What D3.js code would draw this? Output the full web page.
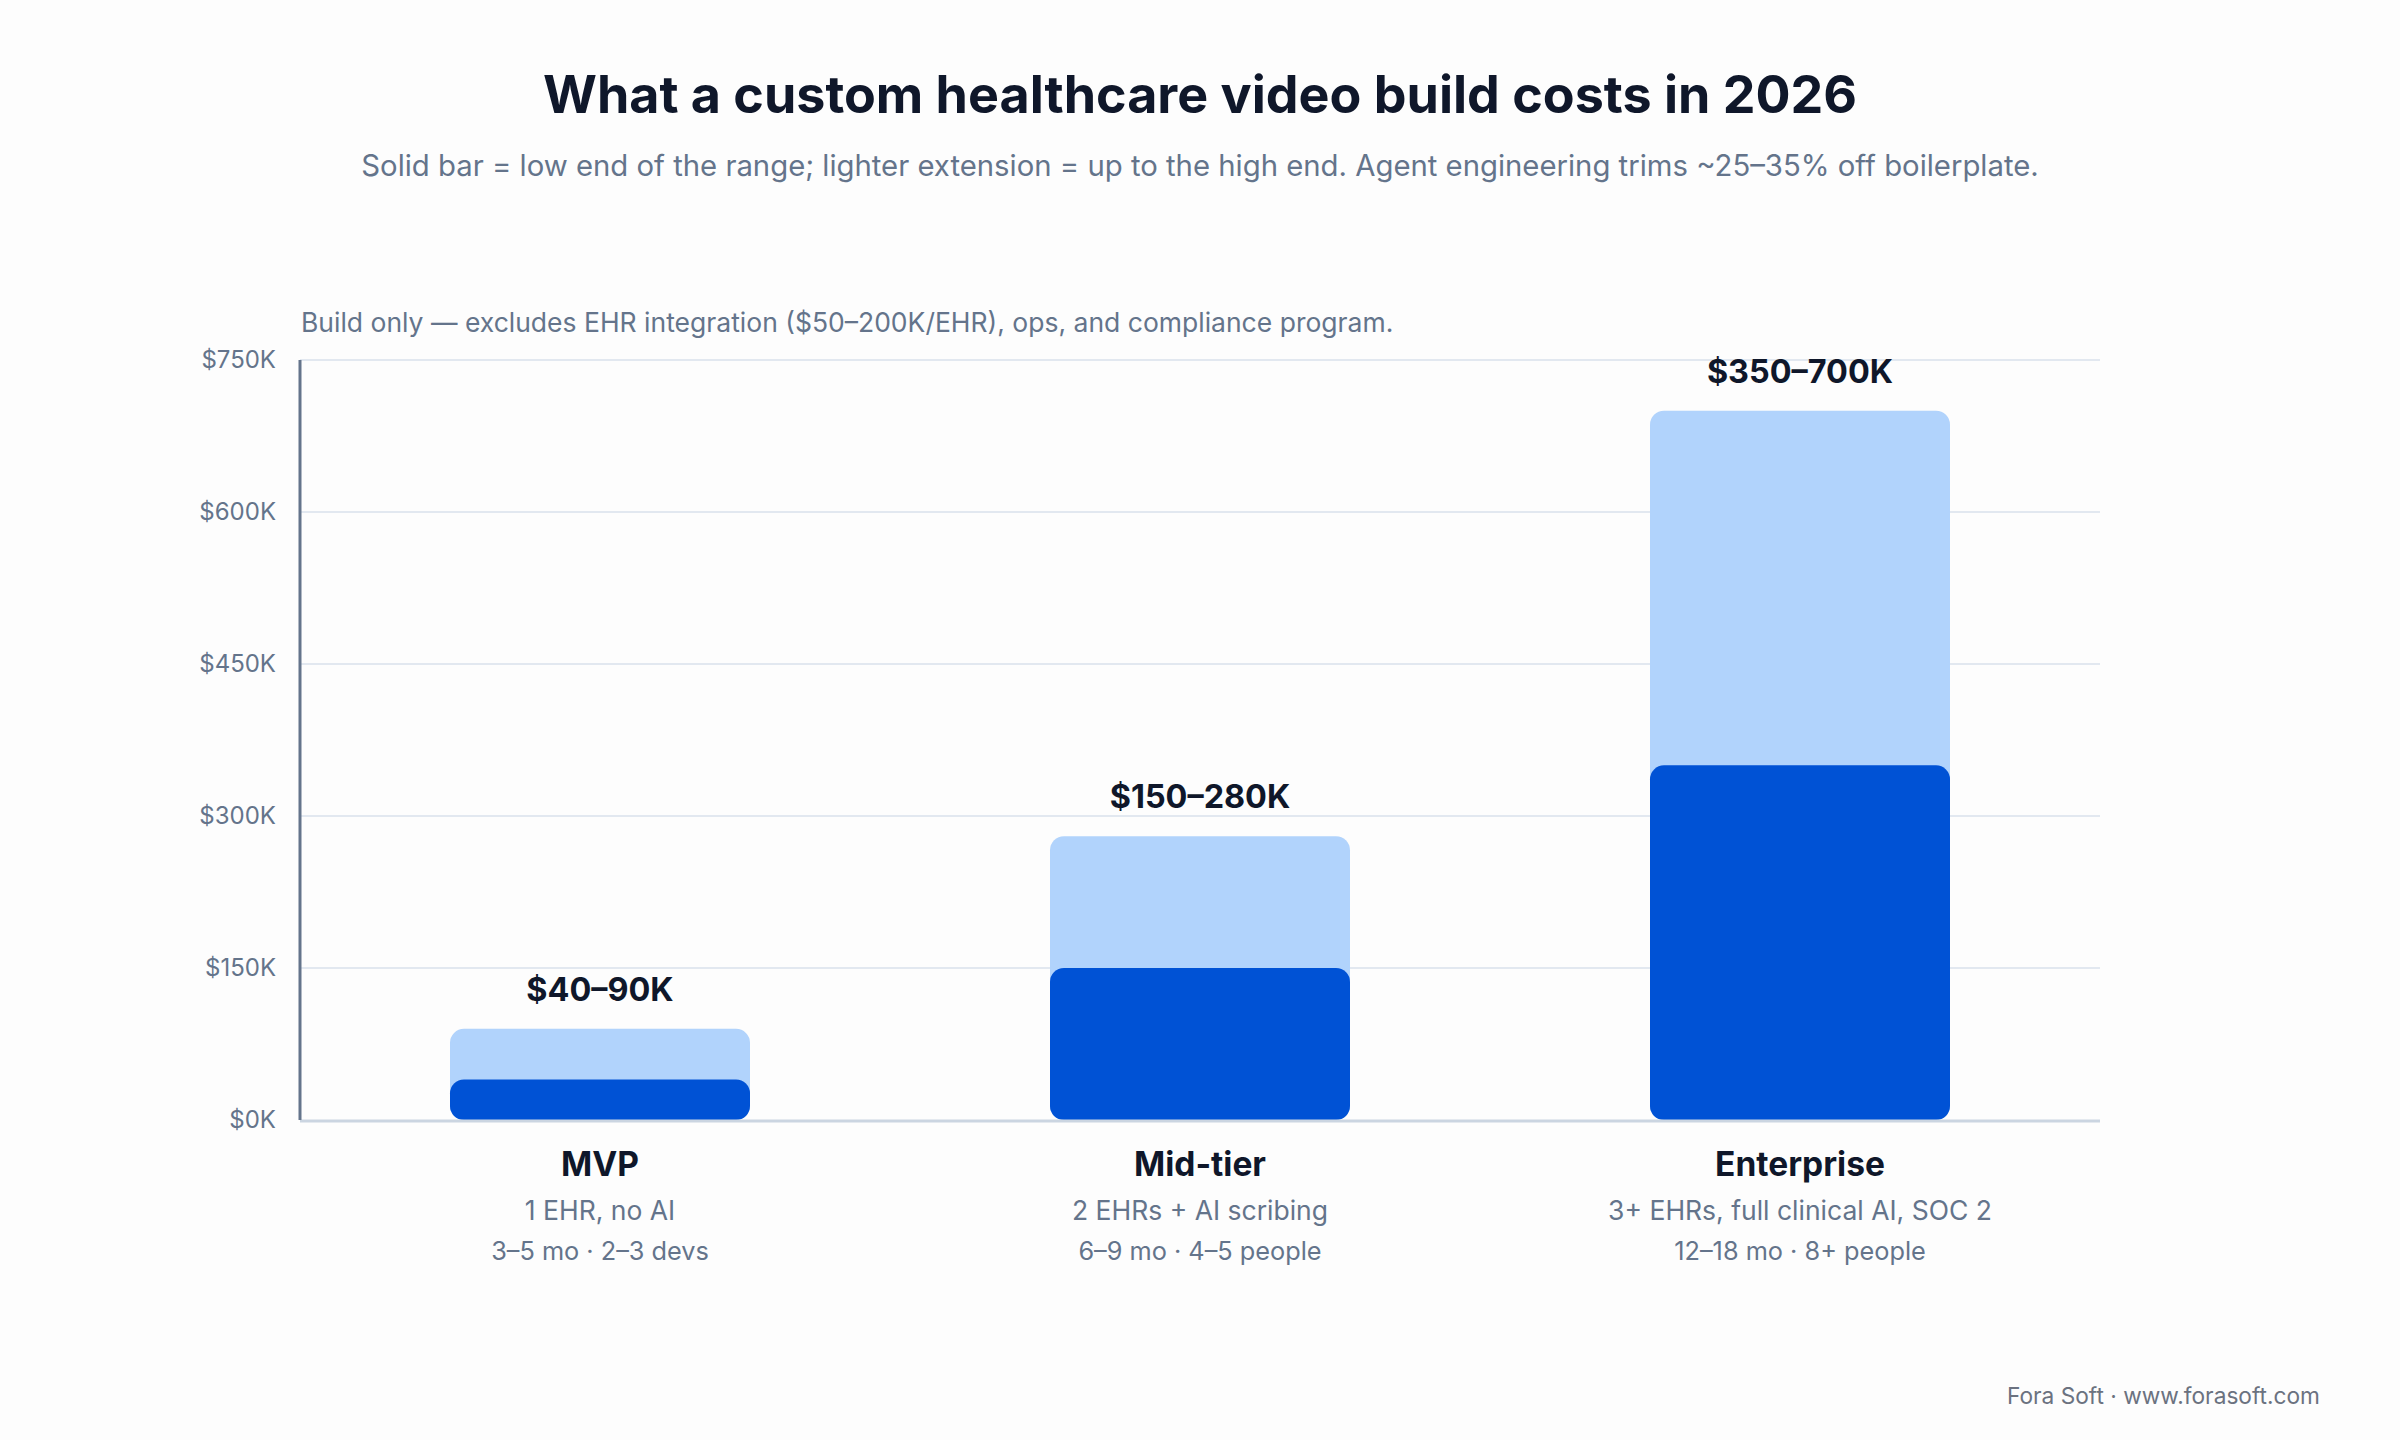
<!DOCTYPE html>
<html>
<head>
<meta charset="utf-8">
<script src="https://cdn.jsdelivr.net/npm/d3@7"></script>
<style>
  body { margin: 0; background: #fdfdfd; }
  svg { display: block; font-family: Inter, "Noto Sans", sans-serif; }
</style>
</head>
<body>
<script>
// chart data
var tiers = ["MVP", "Mid-tier", "Enterprise"];
var lowCost = [40, 150, 350];     // $K, solid bar
var highCost = [90, 280, 700];    // $K, light extension
var rangeLabels = ["$40–90K", "$150–280K", "$350–700K"];
var scopeLines = ["1 EHR, no AI", "2 EHRs + AI scribing", "3+ EHRs, full clinical AI, SOC 2"];
var teamLines = ["3–5 mo · 2–3 devs", "6–9 mo · 4–5 people", "12–18 mo · 8+ people"];
var yTicks = [0, 150, 300, 450, 600, 750];

var W = 2400, H = 1440;
var margin = {top: 360, right: 300, bottom: 320, left: 300},
    width = W - margin.left - margin.right,
    height = H - margin.top - margin.bottom;

var svg = d3.select("body").append("svg")
    .attr("width", W)
    .attr("height", H);

svg.append("rect")
    .attr("width", W)
    .attr("height", H)
    .attr("fill", "#fdfdfd");

// title + subtitle
svg.append("text")
    .attr("x", W / 2)
    .attr("y", 113)
    .attr("text-anchor", "middle")
    .style("font-size", "52px")
    .style("font-weight", 700)
    .style("fill", "#0f172a")
    .text("What a custom healthcare video build costs in 2026");

svg.append("text")
    .attr("x", W / 2)
    .attr("y", 176)
    .attr("text-anchor", "middle")
    .style("font-size", "29.3px")
    .style("fill", "#64748b")
    .text("Solid bar = low end of the range; lighter extension = up to the high end. Agent engineering trims ~25–35% off boilerplate.");

var g = svg.append("g")
    .attr("transform", "translate(" + margin.left + "," + margin.top + ")");

var x = d3.scaleBand()
    .domain(tiers)
    .range([0, width])
    .paddingInner(0.5)
    .paddingOuter(0.25);

var y = d3.scaleLinear()
    .domain([0, 750])
    .range([height, 0]);

// note above plot
g.append("text")
    .attr("x", 1)
    .attr("y", -28)
    .style("font-size", "26.5px")
    .style("fill", "#64748b")
    .text("Build only — excludes EHR integration ($50–200K/EHR), ops, and compliance program.");

// gridlines
g.selectAll(".grid")
    .data(yTicks.slice(1))
    .enter()
    .append("line")
    .attr("class", "grid")
    .attr("x1", 0)
    .attr("x2", width)
    .attr("y1", function(d) { return y(d); })
    .attr("y2", function(d) { return y(d); })
    .attr("stroke", "#e2e8f0")
    .attr("stroke-width", 2);

// y axis labels
var yAxis = g.append("g")
    .call(d3.axisLeft(y)
        .tickValues(yTicks)
        .tickSize(0)
        .tickPadding(24)
        .tickFormat(function(d) { return "$" + d + "K"; }));
yAxis.select(".domain").remove();
yAxis.selectAll("text")
    .style("font-family", "Inter, sans-serif")
    .style("font-size", "24px")
    .style("fill", "#64748b");

var rows = tiers.map(function(t, i) {
    return {tier: t, low: lowCost[i], high: highCost[i], label: rangeLabels[i],
            scope: scopeLines[i], team: teamLines[i]};
});

// light extension (full high range)
g.selectAll(".bar-high")
    .data(rows)
    .enter()
    .append("rect")
    .attr("class", "bar-high")
    .attr("x", function(d) { return x(d.tier); })
    .attr("y", function(d) { return y(d.high); })
    .attr("width", x.bandwidth())
    .attr("height", function(d) { return y(0) - y(d.high); })
    .attr("rx", 14)
    .attr("fill", "#b1d3fc");

// solid low end
g.selectAll(".bar-low")
    .data(rows)
    .enter()
    .append("rect")
    .attr("class", "bar-low")
    .attr("x", function(d) { return x(d.tier); })
    .attr("y", function(d) { return y(d.low); })
    .attr("width", x.bandwidth())
    .attr("height", function(d) { return y(0) - y(d.low); })
    .attr("rx", 14)
    .attr("fill", "#0052d5");

// range labels
g.selectAll(".range-label")
    .data(rows)
    .enter()
    .append("text")
    .attr("class", "range-label")
    .attr("x", function(d) { return x(d.tier) + x.bandwidth() / 2; })
    .attr("y", function(d) { return y(d.high) - 28; })
    .attr("text-anchor", "middle")
    .style("font-size", "32.4px")
    .style("font-weight", 700)
    .style("fill", "#0f172a")
    .text(function(d) { return d.label; });

// axis lines
g.append("line")
    .attr("x1", 0).attr("x2", width)
    .attr("y1", height + 1).attr("y2", height + 1)
    .attr("stroke", "#cbd5e1")
    .attr("stroke-width", 3);

g.append("line")
    .attr("x1", 0).attr("x2", 0)
    .attr("y1", 0).attr("y2", height)
    .attr("stroke", "#64748b")
    .attr("stroke-width", 3);

// category labels
var cat = g.selectAll(".cat")
    .data(rows)
    .enter()
    .append("g")
    .attr("class", "cat")
    .attr("transform", function(d) {
        return "translate(" + (x(d.tier) + x.bandwidth() / 2) + "," + height + ")";
    })
    .attr("text-anchor", "middle");

cat.append("text")
    .attr("y", 56)
    .style("font-size", "33.5px")
    .style("font-weight", 700)
    .style("fill", "#0f172a")
    .text(function(d) { return d.tier; });

cat.append("text")
    .attr("y", 100)
    .style("font-size", "26.5px")
    .style("fill", "#64748b")
    .text(function(d) { return d.scope; });

cat.append("text")
    .attr("y", 140)
    .style("font-size", "25.3px")
    .style("fill", "#64748b")
    .text(function(d) { return d.team; });

// footer
svg.append("text")
    .attr("x", 2320)
    .attr("y", 1404)
    .attr("text-anchor", "end")
    .style("font-size", "22.7px")
    .style("fill", "#6b7280")
    .text("Fora Soft · www.forasoft.com");
</script>
</body>
</html>
